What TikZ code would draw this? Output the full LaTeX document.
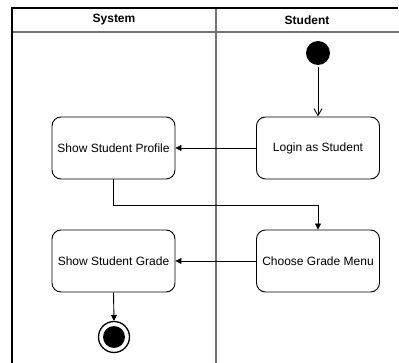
\documentclass[tikz,border=0pt]{standalone}
\usepackage{fontspec}
\setmainfont{Liberation Sans}
\usetikzlibrary{arrows.meta}
\begin{document}
\begin{tikzpicture}[x=1pt,y=-1pt,
  lane/.style={line width=1.1pt,black},
  divider/.style={line width=1.6pt,black!55},
  action/.style={draw,line width=0.9pt,rounded corners=9pt,minimum width=123pt,minimum height=62pt,
    inner sep=0pt,font=\fontsize{12}{14}\selectfont},
  header/.style={font=\bfseries\fontsize{12}{14}\selectfont},
  flow/.style={line width=0.9pt,-{Triangle[length=6pt,width=6pt]}},
  openflow/.style={line width=0.9pt,-{Straight Barb[length=7pt,width=8pt,line width=0.9pt]}}]
\useasboundingbox (0,0) rectangle (399,363);
% swimlane frame
\draw[divider] (12,32) -- (399,32);
\draw[divider] (216,8) -- (216,363);
\draw[lane] (12,363) -- (12,8) -- (398,8);
\node[header] (hsys) at (114,20) {System};
\node[header] (hstu) at (307,20) {Student};
% start and end states
\node[circle,fill=black,minimum size=24pt,inner sep=0pt] (start) at (318,53) {};
\node[circle,draw,line width=1.3pt,minimum size=31pt,inner sep=0pt] (end) at (114,337) {};
\node[circle,fill=black,minimum size=22pt,inner sep=0pt] (endin) at (114,337) {};
% actions
\node[action] (profile) at (113.5,148) {Show Student Profile};
\node[action] (login) at (318,148) {Login as Student};
\node[action] (grade) at (113.5,261) {Show Student Grade};
\node[action] (menu) at (318,261) {Choose Grade Menu};
% flows
\draw[openflow] (start.south) ++(0,2) -- (login.north);
\draw[flow] (login.west) -- (profile.east);
\draw[flow] (profile.south) -- ++(0,26) -| (menu.north);
\draw[flow] (menu.west) -- (grade.east);
\draw[flow] (grade.south) -- (end.north);
\end{tikzpicture}
\end{document}
